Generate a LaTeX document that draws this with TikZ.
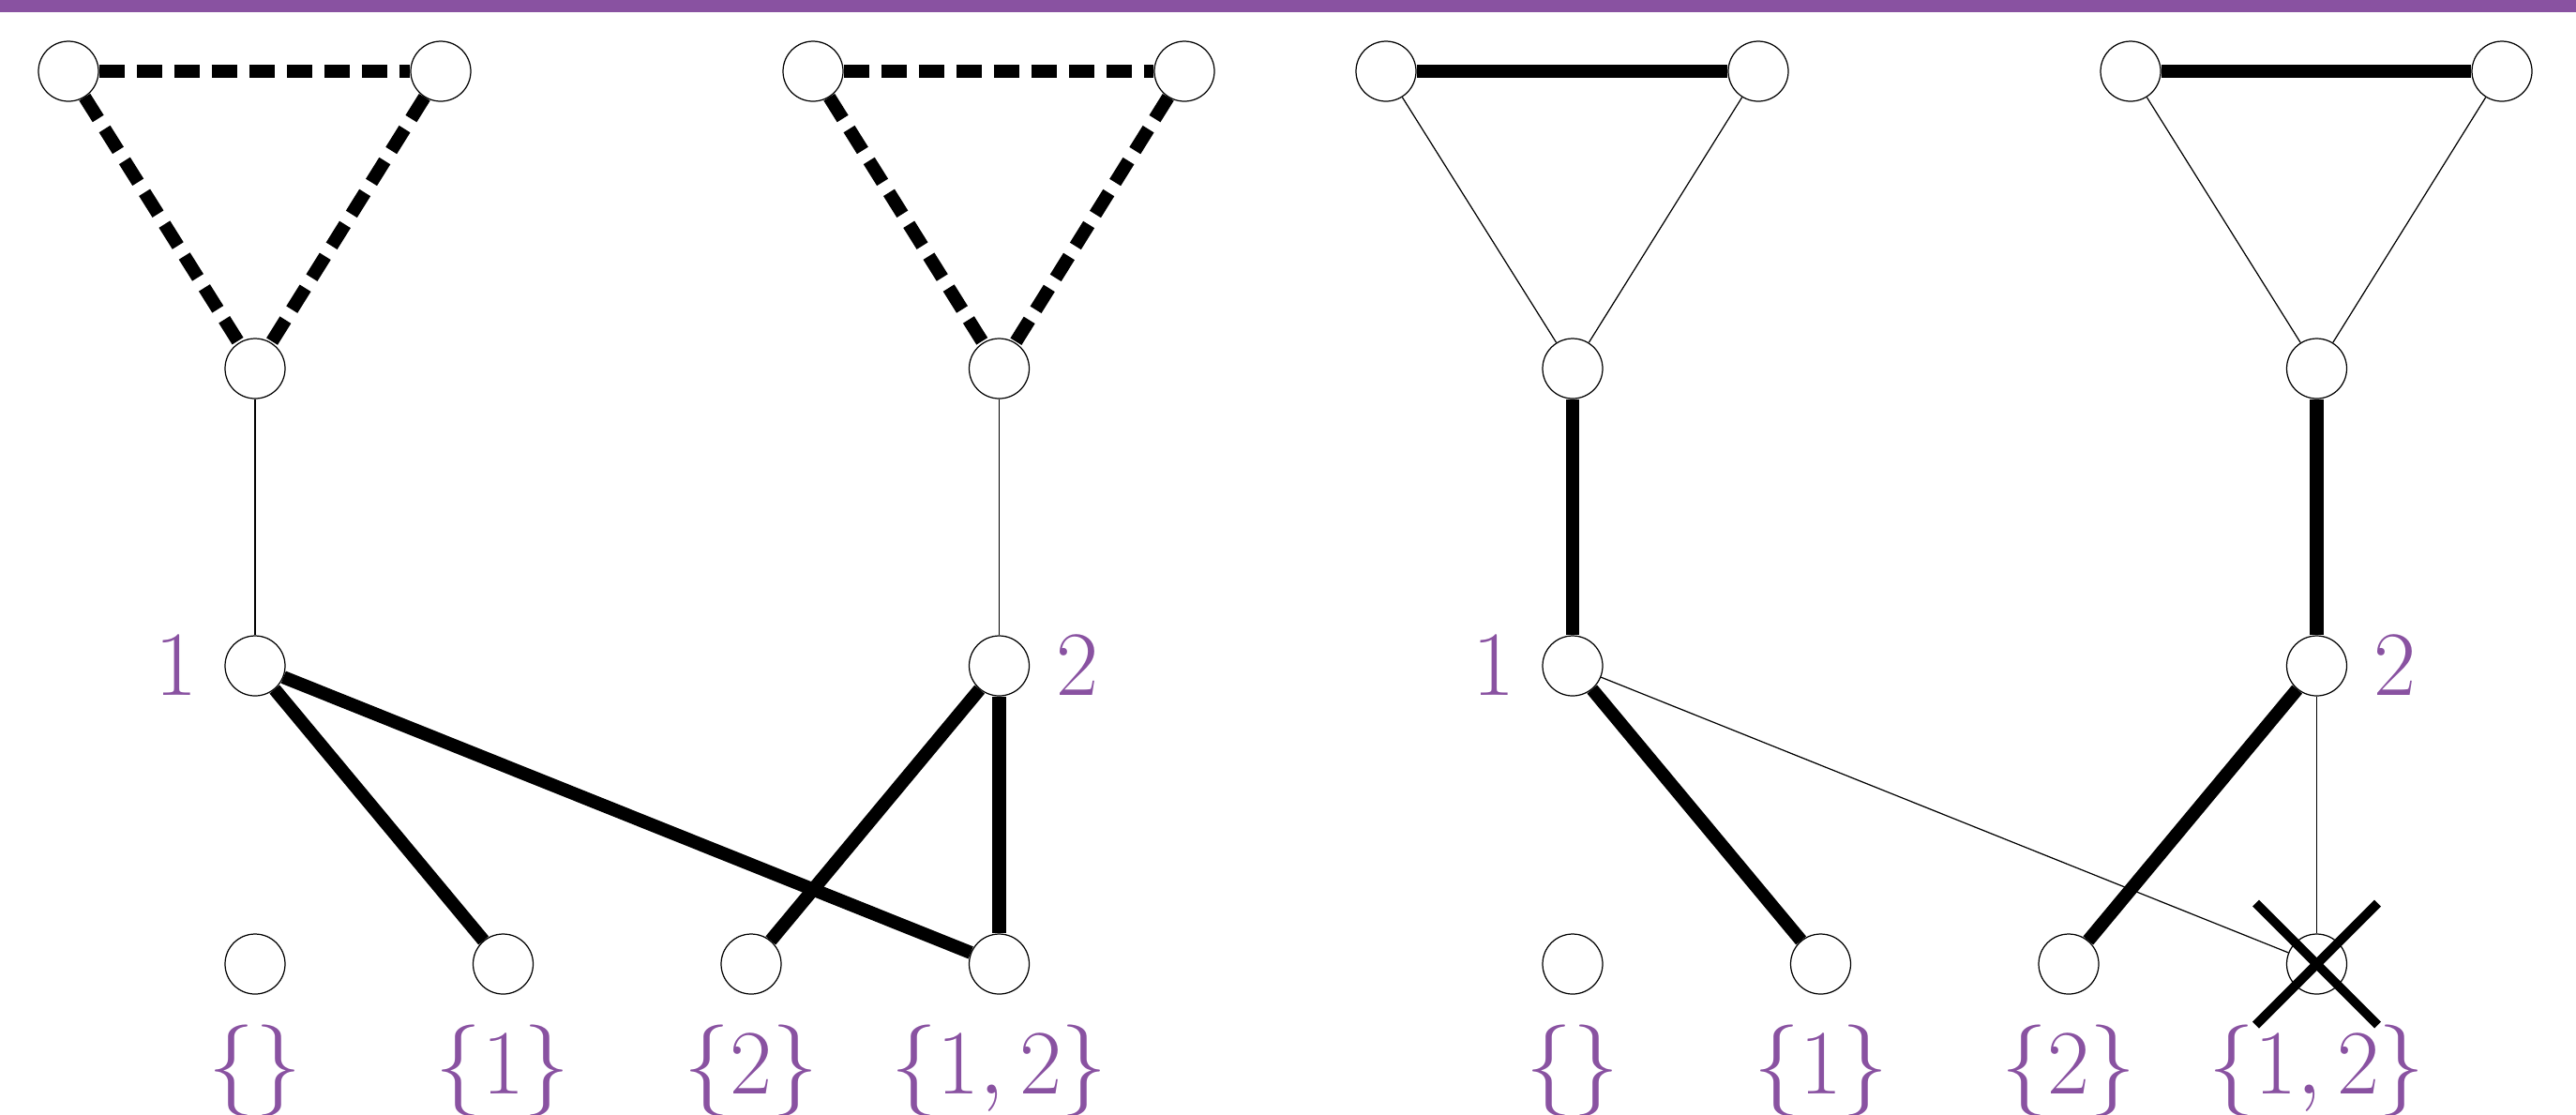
\RequirePackage{fix-cm}
\documentclass[tikz,border=0pt]{standalone}
\usepackage{tikz}
\usetikzlibrary{positioning, calc}

\definecolor{setpurple}{RGB}{137,82,161}
\tikzset{
  vertex/.style={circle, draw, fill=white, line width=0.35pt, minimum size=0.64cm, inner sep=0pt},
  lightedge/.style={line width=0.35pt},
  heavyedge/.style={line width=4pt},
  cutedge/.style={line width=4pt, dash pattern=on 0.27cm off 0.13cm},
  setlabel/.style={text=setpurple, inner sep=0pt, font=\fontsize{27.9}{33}\selectfont},
  knockout/.style={line width=2.8pt}
}

\begin{document}
\begin{tikzpicture}
  \useasboundingbox (0,0) rectangle (27.47,-11.88);
  % purple rule along the top
  \fill[setpurple] (0,0) rectangle (27.47,-0.13);

  % ---- left half: triangles cut off ----
  \node[vertex] (pa) at (0.73,-0.76) {};
  \node[vertex] (pb) at (4.70,-0.76) {};
  \node[vertex] (pc) at (2.72,-3.93) {};
  \node[vertex] (pv) at (2.72,-7.10) {};
  \node[vertex] (qa) at (8.67,-0.76) {};
  \node[vertex] (qb) at (12.63,-0.76) {};
  \node[vertex] (qc) at (10.655,-3.93) {};
  \node[vertex] (qv) at (10.655,-7.10) {};
  % subsets
  \node[vertex] (s0) at (2.72,-10.28) {};
  \node[vertex] (s1) at (5.365,-10.28) {};
  \node[vertex] (s2) at (8.01,-10.28) {};
  \node[vertex] (s3) at (10.655,-10.28) {};
  \node[setlabel, left=0.285cm of pv] (lpv) {$1$};
  \node[setlabel, right=0.28cm of qv] (lqv) {$2$};
  \node[setlabel, below=0.32cm of s0] (ls0) {$\{\}$};
  \node[setlabel, below=0.32cm of s1] (ls1) {$\{1\}$};
  \node[setlabel, below=0.32cm of s2] (ls2) {$\{2\}$};
  \node[setlabel, below=0.32cm of s3] (ls3) {$\{1,2\}$};

  \draw[cutedge] (pa) -- (pb);
  \draw[cutedge] (pa) -- (pc);
  \draw[cutedge] (pb) -- (pc);
  \draw[cutedge] (qa) -- (qb);
  \draw[cutedge] (qa) -- (qc);
  \draw[cutedge] (qb) -- (qc);
  \draw[lightedge] (pc) -- (pv);
  \draw[lightedge] (qc) -- (qv);
  \draw[heavyedge] (pv) -- (s1);
  \draw[heavyedge] (pv) -- (s3);
  \draw[heavyedge] (qv) -- (s2);
  \draw[heavyedge] (qv) -- (s3);

  % ---- right half: same graph, {1,2} struck out ----
  \begin{scope}[shift={(14.05,0)}]
    \node[vertex] (ra) at (0.73,-0.76) {};
    \node[vertex] (rb) at (4.70,-0.76) {};
    \node[vertex] (rc) at (2.72,-3.93) {};
    \node[vertex] (rv) at (2.72,-7.10) {};
    \node[vertex] (ua) at (8.67,-0.76) {};
    \node[vertex] (ub) at (12.63,-0.76) {};
    \node[vertex] (uc) at (10.655,-3.93) {};
    \node[vertex] (uv) at (10.655,-7.10) {};
    \node[vertex] (t0) at (2.72,-10.28) {};
    \node[vertex] (t1) at (5.365,-10.28) {};
    \node[vertex] (t2) at (8.01,-10.28) {};
    \node[vertex] (t3) at (10.655,-10.28) {};
    \node[setlabel, left=0.285cm of rv] (lrv) {$1$};
    \node[setlabel, right=0.28cm of uv] (luv) {$2$};
    \node[setlabel, below=0.32cm of t0] (lt0) {$\{\}$};
    \node[setlabel, below=0.32cm of t1] (lt1) {$\{1\}$};
    \node[setlabel, below=0.32cm of t2] (lt2) {$\{2\}$};
    \node[setlabel, below=0.32cm of t3] (lt3) {$\{1,2\}$};

    \draw[heavyedge] (ra) -- (rb);
    \draw[lightedge] (ra) -- (rc);
    \draw[lightedge] (rb) -- (rc);
    \draw[heavyedge] (ua) -- (ub);
    \draw[lightedge] (ua) -- (uc);
    \draw[lightedge] (ub) -- (uc);
    \draw[heavyedge] (rc) -- (rv);
    \draw[heavyedge] (uc) -- (uv);
    \draw[heavyedge] (rv) -- (t1);
    \draw[lightedge] (rv) -- (t3);
    \draw[heavyedge] (uv) -- (t2);
    \draw[lightedge] (uv) -- (t3);
    % cross over the {1,2} vertex
    \coordinate (xnw) at ($(t3)+(-0.65,0.65)$);
    \coordinate (xse) at ($(t3)+(0.65,-0.65)$);
    \coordinate (xsw) at ($(t3)+(-0.65,-0.65)$);
    \coordinate (xne) at ($(t3)+(0.65,0.65)$);
    \draw[knockout] (xnw) -- (xse);
    \draw[knockout] (xsw) -- (xne);
  \end{scope}
\end{tikzpicture}
\end{document}
